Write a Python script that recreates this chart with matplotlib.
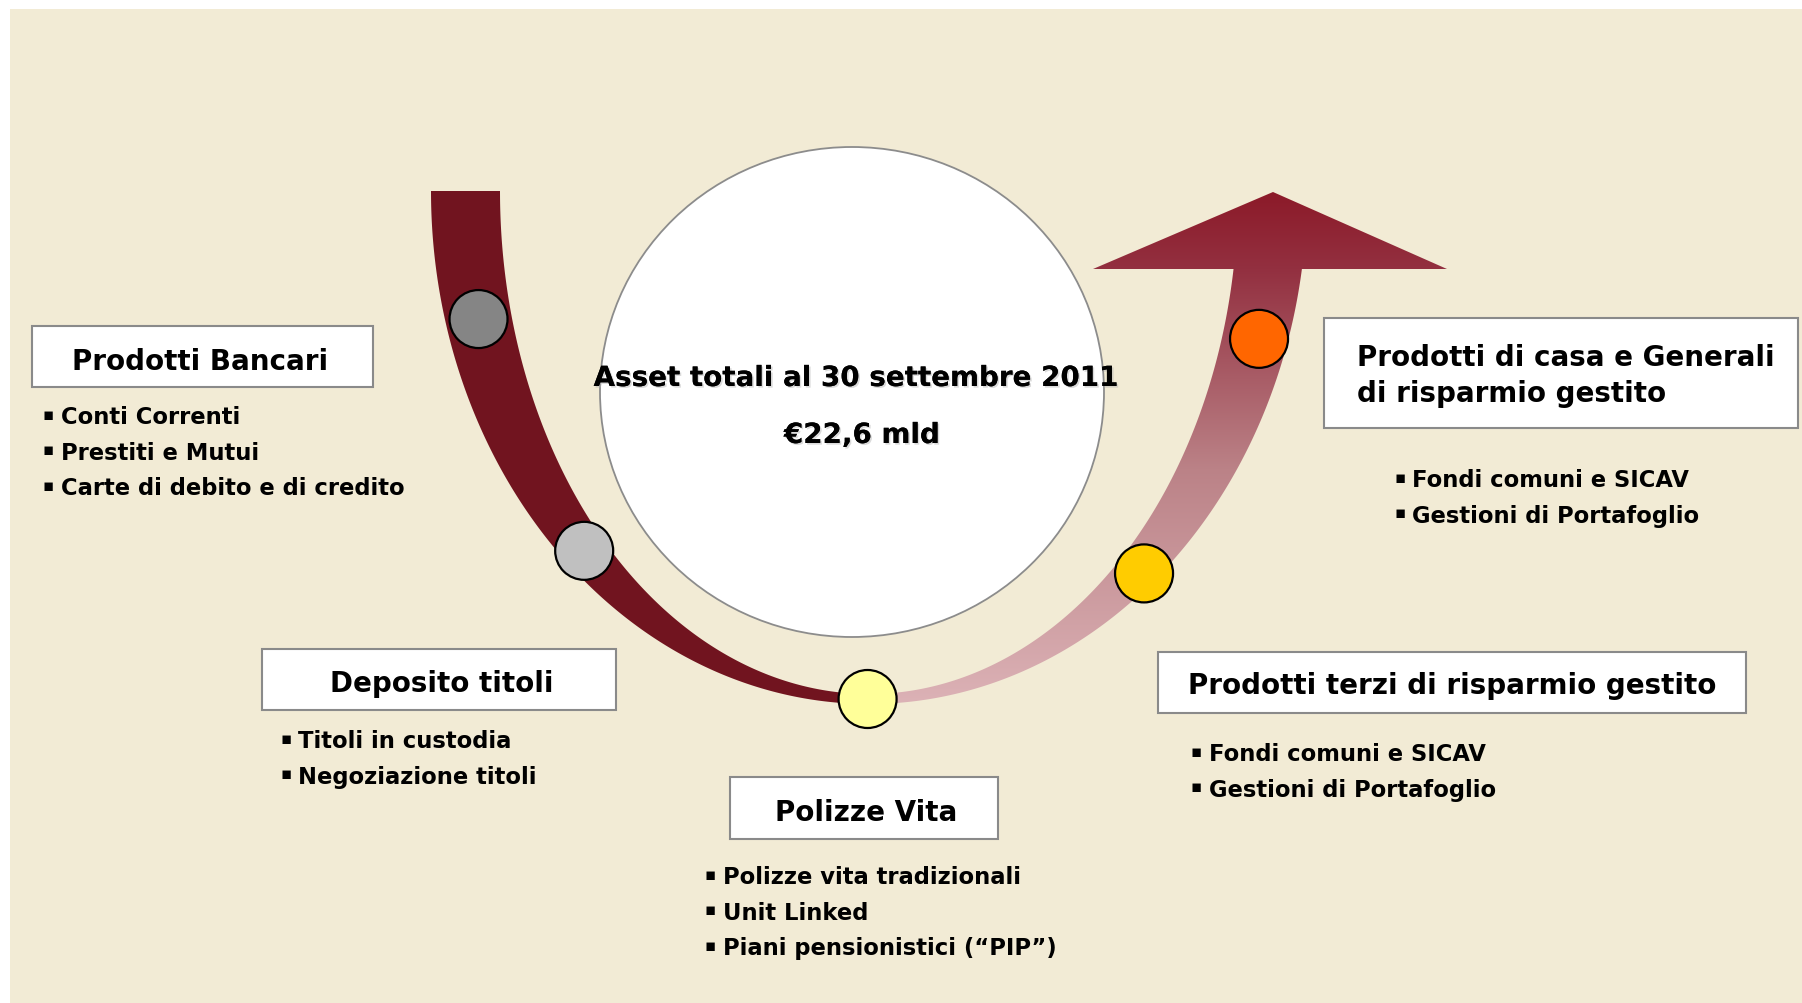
import numpy as np
import matplotlib
matplotlib.use('Agg')
import matplotlib.pyplot as plt
from matplotlib.patches import Rectangle, Ellipse, Polygon, Circle
import matplotlib.patheffects as pe

# --- contenuti ---
center_lines = ['Asset totali al 30 settembre 2011', '€22,6 mld']

box_titles = [
    'Prodotti Bancari',
    'Deposito titoli',
    'Polizze Vita',
    'Prodotti terzi di risparmio gestito',
    'Prodotti di casa e Generali\ndi risparmio gestito',
]
box_bullets = [
    ['Conti Correnti', 'Prestiti e Mutui', 'Carte di debito e di credito'],
    ['Titoli in custodia', 'Negoziazione titoli'],
    ['Polizze vita tradizionali', 'Unit Linked', 'Piani pensionistici (“PIP”)'],
    ['Fondi comuni e SICAV', 'Gestioni di Portafoglio'],
    ['Fondi comuni e SICAV', 'Gestioni di Portafoglio'],
]
# colori dei pallini lungo la freccia (da sinistra verso destra)
dot_colors = ['#858585', '#C0C0C0', '#FFFF99', '#FFCC00', '#FF6600']
dot_angles = [165.4, 134.9, 90.2, 48.6, 16.9]   # gradi sull'arco
dot_frac = [0.5, 0.5, 0.5, 0.68, 0.56]          # 0 = bordo interno, 1 = bordo esterno

# --- layout (pixel) ---
W, H = 1802, 1004
BG = '#F2EBD5'
DARK = '#71141F'

# rettangoli: x0, y0, x1, y1
box_rects = [(32, 327, 373, 388), (262, 650, 616, 711), (730, 778, 998, 840),
             (1158, 653, 1746, 714), (1324, 319, 1798, 429)]
title_pos = [(200, 362, 'center'), (442, 684, 'center'), (866, 813, 'center'),
             (1452, 686, 'center'), (1357, 376, 'left')]
bullet_pos = [(43, 418), (280, 742), (705, 878), (1191, 755), (1394, 481)]
bullet_gap = 35.5

cx, cy = 869, 192
outer = (438, 513)
inner = (369, 503)

fig = plt.figure(figsize=(W / 100, H / 100), dpi=100)
ax = fig.add_axes([0, 0, 1, 1])
ax.set_xlim(0, W)
ax.set_ylim(H, 0)
ax.axis('off')

ax.add_patch(Rectangle((10, 10), W - 10, H - 10, facecolor=BG, edgecolor='none', zorder=0))


def arc(r, t0, t1, n=200):
    t = np.linspace(t0, t1, n)
    return np.column_stack([cx + r[0] * np.cos(t), cy + r[1] * np.sin(t)])


# ramo sinistro (scuro)
left = np.vstack([arc(outer, np.pi, np.pi / 2), arc(inner, np.pi / 2, np.pi)])
ax.add_patch(Polygon(left, closed=True, facecolor=DARK, edgecolor='none', zorder=1))

# ramo destro con punta di freccia (sfumato)
shaft_top = 270
t_out = np.arcsin((shaft_top - cy) / outer[1])
t_in = np.arcsin((shaft_top - cy) / inner[1])
o = arc(outer, np.pi / 2, t_out)
i = arc(inner, t_in, np.pi / 2)
head = np.array([[1447, shaft_top], [1273, 193], [1093, shaft_top]])
right = np.vstack([o, head, i])
right_patch = Polygon(right, closed=True, facecolor='none', edgecolor='none', transform=ax.transData)

stops_y = [193, 270, 470, 705]
stops_c = ['#8C1A29', '#933040', '#BB8287', '#DCB2B6']
ys = np.linspace(185, 715, 400)
rgb = np.array([matplotlib.colors.to_rgb(c) for c in stops_c])
grad = np.stack([np.interp(ys, stops_y, rgb[:, k]) for k in range(3)], axis=-1)
grad = grad.reshape(-1, 1, 3)
im = ax.imshow(grad, origin='lower', extent=(840, 1460, 185, 715), aspect='auto',
               interpolation='bilinear', zorder=1)
im.set_clip_path(right_patch)

# cerchio centrale
ax.add_patch(Ellipse((852, 393), 504, 490, facecolor='white', edgecolor='#8C8C8C', lw=1.3, zorder=2))

shadow = [pe.withSimplePatchShadow(offset=(1.2, -1.2), shadow_rgbFace='#B0B0B0', alpha=0.45), pe.Normal()]
ax.text(856, 379, center_lines[0], ha='center', va='center', fontsize=20, fontweight='bold',
        color='black', zorder=3, path_effects=shadow)
ax.text(862, 436, center_lines[1], ha='center', va='center', fontsize=20, fontweight='bold',
        color='black', zorder=3, path_effects=shadow)

# pallini
for col, ang, fr in zip(dot_colors, dot_angles, dot_frac):
    t = np.radians(ang)
    rx = inner[0] + fr * (outer[0] - inner[0])
    ry = inner[1] + fr * (outer[1] - inner[1])
    ax.add_patch(Circle((cx + rx * np.cos(t), cy + ry * np.sin(t)), 29,
                        facecolor=col, edgecolor='black', lw=1.6, zorder=4))

# riquadri con titoli ed elenchi
for title, items, rect, tp, bp in zip(box_titles, box_bullets, box_rects, title_pos, bullet_pos):
    x0, y0, x1, y1 = rect
    ax.add_patch(Rectangle((x0, y0), x1 - x0, y1 - y0, facecolor='white',
                           edgecolor='#8A8A8A', lw=1.5, zorder=3))
    ax.text(tp[0], tp[1], title, ha=tp[2], va='center', fontsize=20, fontweight='bold',
            linespacing=1.35, zorder=4)
    for k, item in enumerate(items):
        y = bp[1] + k * bullet_gap
        ax.text(bp[0], y - 3, '▪', ha='left', va='center', fontsize=12, fontweight='bold', zorder=4)
        ax.text(bp[0] + 18, y, item, ha='left', va='center', fontsize=16.3, fontweight='bold', zorder=4)

fig.savefig('out.png', dpi=100, facecolor='white')
